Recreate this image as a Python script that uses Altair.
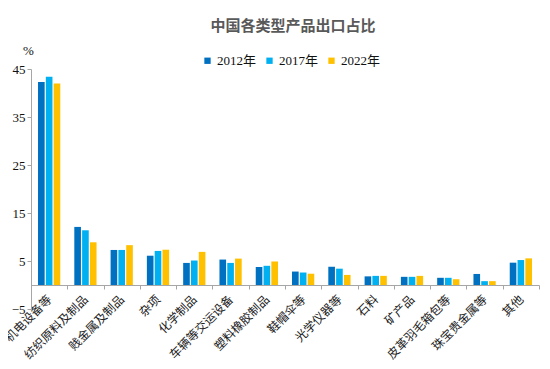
import altair as alt
import pandas as pd

categories = ["机电设备等", "纺织原料及制品", "贱金属及制品", "杂项", "化学制品",
              "车辆等交运设备", "塑料橡胶制品", "鞋帽伞等", "光学仪器等", "石料",
              "矿产品", "皮革羽毛箱包等", "珠宝贵金属等", "其他"]
years = ["2012年", "2017年", "2022年"]
v2012 = [42.3, 12.1, 7.3, 6.1, 4.6, 5.3, 3.75, 2.8, 3.8, 1.8, 1.7, 1.5, 2.3, 4.65]
v2017 = [43.4, 11.4, 7.3, 7.1, 5.1, 4.6, 4.0, 2.6, 3.4, 1.9, 1.7, 1.5, 0.8, 5.2]
v2022 = [42.0, 8.9, 8.3, 7.35, 6.9, 5.5, 4.9, 2.35, 2.1, 1.9, 1.9, 1.2, 0.8, 5.55]
y_ticks = [-5, 5, 15, 25, 35, 45]
colors = ["#0070C0", "#00B0F0", "#FFC000"]
title_text = "中国各类型产品出口占比"

rows = []
for yr, vals in zip(years, [v2012, v2017, v2022]):
    for c, v in zip(categories, vals):
        rows.append({"cat": c, "year": yr, "value": v})
df = pd.DataFrame(rows)

serif = "Liberation Serif, Noto Sans CJK SC"
cjk = "Noto Sans CJK SC"

bars = alt.Chart(df).mark_bar().encode(
    x=alt.X("cat:N", sort=categories, title=None,
            scale=alt.Scale(paddingInner=0, paddingOuter=0),
            axis=alt.Axis(offset=-24, labelAngle=-45, labelAlign="right",
                          labelBaseline="middle", labelFont=cjk, labelFontSize=12,
                          labelColor="#222", labelPadding=8, tickBand="extent",
                          tickSize=4, tickColor="#A6A6A6", domainColor="#A6A6A6",
                          labelOverlap=False)),
    xOffset=alt.XOffset("year:N", sort=years,
                        scale=alt.Scale(paddingInner=0.15, paddingOuter=0.9)),
    y=alt.Y("value:Q", title="%",
            scale=alt.Scale(domain=[-5, 45], nice=False, zero=False),
            axis=alt.Axis(values=y_ticks, grid=False, labelFont=serif,
                          labelFontSize=13, labelColor="#111", tickSize=4,
                          tickColor="#A6A6A6", domainColor="#A6A6A6",
                          titleAngle=0, titleX=-3, titleY=-19, titleFont=serif,
                          titleFontSize=13, titleFontWeight="normal",
                          titleColor="#111", titleAlign="center",
                          titleBaseline="middle")),
    color=alt.Color("year:N", sort=years,
                    scale=alt.Scale(domain=years, range=colors),
                    legend=alt.Legend(title=None, orient="none", legendX=170,
                                      legendY=-15, direction="horizontal",
                                      symbolType="square", symbolSize=40,
                                      symbolStrokeWidth=0, labelFont=serif,
                                      labelFontSize=13, labelColor="#111",
                                      columnPadding=6, symbolOffset=0,
                                      labelOffset=3)),
)

title = alt.Chart(pd.DataFrame({"t": [title_text]})).mark_text(
    font=cjk, fontSize=15, fontWeight="bold", color="#595959",
    align="center", baseline="middle"
).encode(text="t:N", x=alt.value(262), y=alt.value(-43))

chart = alt.layer(bars, title).properties(
    width=508, height=240,
    autosize=alt.AutoSizeParams(type="none"),
    padding={"left": 23, "top": 61, "right": 3, "bottom": 52},
).configure_view(stroke=None)

chart.save("out.html", embed_options={"renderer": "svg", "actions": False})
